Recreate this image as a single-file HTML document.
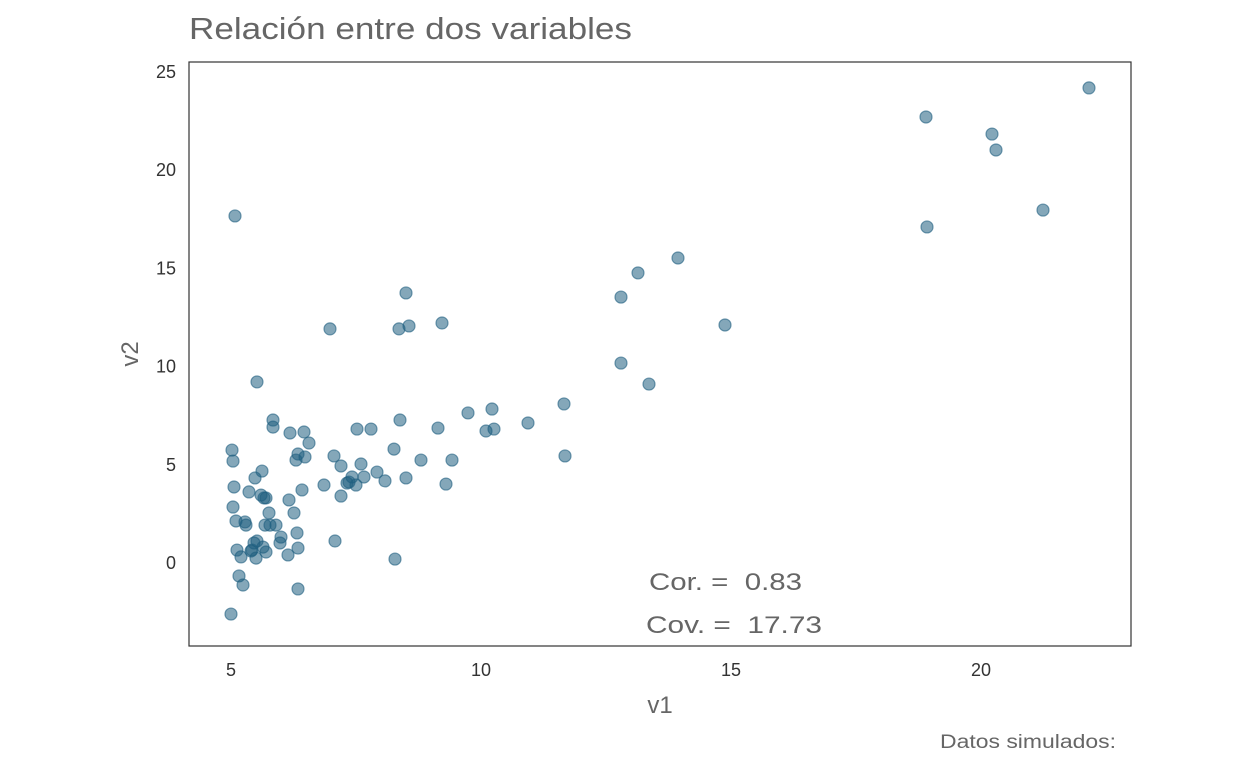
<!DOCTYPE html>
<html><head><meta charset="utf-8"><style>
body{margin:0;background:#fff;}
svg{display:block;font-family:"Liberation Sans",sans-serif;}
.pre{white-space:pre;}
</style></head><body>
<svg id="chart" width="1248" height="768">
<text x="189" y="39" font-size="31" fill="#666" textLength="443" lengthAdjust="spacingAndGlyphs">Relación entre dos variables</text>
<rect x="189" y="62" width="942" height="584" fill="none" stroke="#333" stroke-width="1.2"/>
<g id="xt"></g><g id="yt"></g><g id="pts"></g>
<text x="660" y="713" font-size="24" fill="#666" text-anchor="middle">v1</text>
<text transform="translate(138,354) rotate(-90)" font-size="24" fill="#666" text-anchor="middle">v2</text>
<text class="pre" x="649" y="590" font-size="24" fill="#666" textLength="153" lengthAdjust="spacingAndGlyphs">Cor. =  0.83</text>
<text class="pre" x="646" y="633" font-size="24" fill="#666" textLength="176" lengthAdjust="spacingAndGlyphs">Cov. =  17.73</text>
<text x="940" y="748" font-size="19" fill="#666" textLength="176" lengthAdjust="spacingAndGlyphs">Datos simulados:</text>
</svg>
<script>
const xTicks=[5,10,15,20];
const yTicks=[0,5,10,15,20,25];
const v1=[22.16,18.9,20.22,20.3,21.24,18.92,5.08,13.94,13.14,12.8,14.88,8.5,6.98,8.36,8.56,9.22,5.52,12.8,13.36,11.66,9.74,10.22,5.84,8.38,10.94,5.84,10.1,10.26,9.14,7.52,7.8,6.18,6.46,5.02,6.56,8.26,5.04,9.42,11.68,6.34,6.3,6.48,7.06,7.6,7.2,8.8,5.62,7.92,5.48,7.66,7.42,7.36,8.08,8.5,9.3,5.06,7.32,7.5,6.86,6.42,5.36,5.6,7.2,5.66,6.16,5.7,5.04,5.76,6.26,5.1,5.28,5.3,5.68,5.9,5.78,6.0,7.08,5.98,6.32,5.52,5.46,5.12,5.42,5.64,5.4,5.7,6.34,5.2,5.5,6.14,8.28,5.16,5.24,6.34,5.0];
const v2=[24.19,22.71,21.84,21.03,17.97,17.11,17.67,15.53,14.77,13.54,12.12,13.75,11.92,11.92,12.07,12.22,9.22,10.18,9.11,8.1,7.64,7.84,7.28,7.28,7.13,6.92,6.72,6.82,6.87,6.82,6.82,6.62,6.67,5.75,6.11,5.8,5.19,5.24,5.45,5.55,5.24,5.4,5.45,5.04,4.94,5.24,4.68,4.63,4.33,4.38,4.38,4.12,4.18,4.33,4.02,3.87,4.07,3.97,3.97,3.72,3.62,3.46,3.41,3.31,3.21,3.31,2.85,2.55,2.55,2.14,2.09,1.93,1.93,1.93,1.93,1.32,1.12,1.02,1.53,1.12,1.02,0.66,0.66,0.81,0.61,0.56,0.76,0.31,0.25,0.41,0.2,-0.66,-1.12,-1.32,-2.6];
const NS="http://www.w3.org/2000/svg";
const sx=v=>231+(v-5)*50;
const sy=v=>563-v*19.64;
const xt=document.getElementById('xt');
xTicks.forEach(t=>{const e=document.createElementNS(NS,'text');


e.setAttribute('x',sx(t));e.setAttribute('y',676);e.setAttribute('font-size','18');e.setAttribute('fill','#333');e.setAttribute('text-anchor','middle');e.textContent=t;xt.appendChild(e);});
const yt=document.getElementById('yt');
yTicks.forEach(t=>{const e=document.createElementNS(NS,'text');


e.setAttribute('x',176);e.setAttribute('y',sy(t)+6);e.setAttribute('font-size','18');e.setAttribute('fill','#333');e.setAttribute('text-anchor','end');e.textContent=t;yt.appendChild(e);});
const pts=document.getElementById('pts');
v1.forEach((x,i)=>{const c=document.createElementNS(NS,'circle');


c.setAttribute('cx',sx(x));c.setAttribute('cy',sy(v2[i]));c.setAttribute('r',6);
c.setAttribute('fill','rgba(31,95,128,0.55)');c.setAttribute('stroke','rgba(31,95,128,0.6)');c.setAttribute('stroke-width','1.2');pts.appendChild(c);});
</script>
</body></html>
